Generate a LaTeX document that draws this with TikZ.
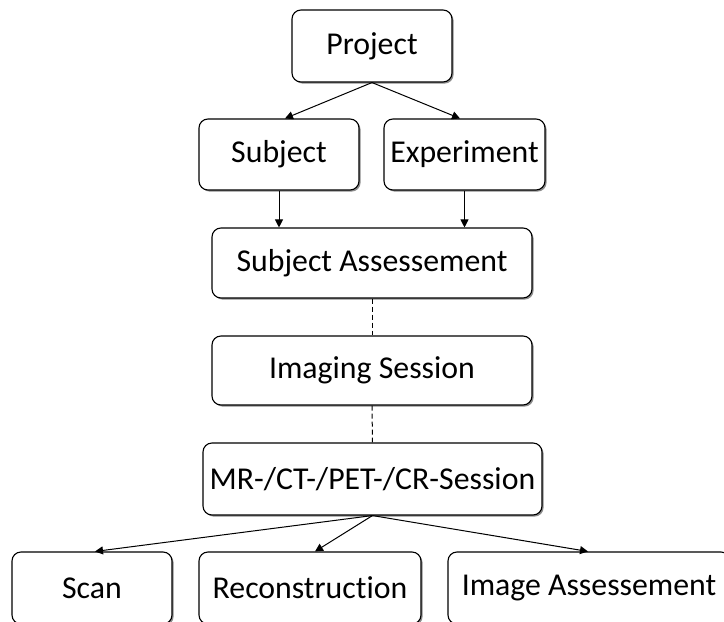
\documentclass[tikz,border=0pt]{standalone}
\usepackage{fontspec}
\setmainfont{Carlito}[Ligatures=NoCommon]
\usetikzlibrary{arrows.meta,shadows}
\begin{document}
\begin{tikzpicture}[x=1pt,y=-1pt,
  box/.style={draw=black,line width=1.1pt,rounded corners=9pt,fill=white,
    inner sep=0pt,font=\fontsize{31.8}{37}\selectfont,
    drop shadow={shadow xshift=1.6pt,shadow yshift=-1.6pt,fill=black,opacity=0.45}},
  arr/.style={draw=black,line width=1pt,-{Triangle[length=8pt,width=8pt]}},
  dsh/.style={draw=black,line width=1pt,dash pattern=on 5pt off 3pt}]
\useasboundingbox (0,0) rectangle (724,622);
\node[box,minimum width=160pt,minimum height=72pt] (proj) at (372,46) {Project};
\node[box,minimum width=160pt,minimum height=71pt] (subj) at (279,154.5) {Subject};
\node[box,minimum width=161pt,minimum height=71pt] (expe) at (464.5,154.5) {Experiment};
\node[box,minimum width=320pt,minimum height=70pt] (sass) at (372,263) {Subject Assessement};
\node[box,minimum width=320pt,minimum height=69pt] (imgs) at (372,370.5) {Imaging Session};
\node[box,minimum width=339pt,minimum height=72pt] (mrs) at (372.5,479) {MR-/CT-/PET-/CR-Session};
\node[box,minimum width=160pt,minimum height=72pt] (scan) at (92,588) {Scan};
\node[box,minimum width=222pt,minimum height=72pt] (reco) at (310,588) {Reconstruction};
\node[box,minimum width=282pt,minimum height=72pt] (iass) at (589,588) {Image Assessement};
\draw[arr] (proj.south) -- ([xshift=6pt]subj.north);
\draw[arr] (proj.south) -- ([xshift=-4.5pt]expe.north);
\draw[arr] (subj.south) -- (subj.south |- sass.north);
\draw[arr] (expe.south) -- (expe.south |- sass.north);
\draw[dsh] (sass.south) -- (imgs.north);
\draw[dsh] (imgs.south) -- (mrs.north);
\draw[arr] (mrs.south) -- ([xshift=3pt]scan.north);
\draw[arr] (mrs.south) -- ([xshift=5pt]reco.north);
\draw[arr] (mrs.south) -- ([xshift=-1pt]iass.north);
\end{tikzpicture}
\end{document}
